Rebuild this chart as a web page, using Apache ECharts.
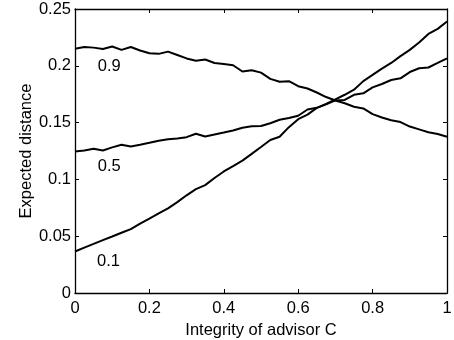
<!DOCTYPE html>
<html>
<head>
<meta charset="utf-8">
<script src="https://cdn.jsdelivr.net/npm/echarts@6/dist/echarts.min.js"></script>
<style>
  html, body { margin: 0; padding: 0; background: #fff; }
  #main { width: 454px; height: 340px; }
</style>
</head>
<body>
<div id="main"></div>
<script>
// integrity of advisor C
var xs = [0, 0.025, 0.05, 0.075, 0.1, 0.125, 0.15, 0.175, 0.2, 0.225,
  0.25, 0.275, 0.3, 0.325, 0.35, 0.375, 0.4, 0.425, 0.45, 0.475,
  0.5, 0.525, 0.55, 0.575, 0.6, 0.625, 0.65, 0.675, 0.7, 0.725,
  0.75, 0.775, 0.8, 0.825, 0.85, 0.875, 0.9, 0.925, 0.95, 0.975, 1]

// expected distance, one curve per parameter
var curve09 = [0.2150, 0.2165, 0.2160, 0.2148, 0.2170, 0.2140, 0.2165, 0.2135, 0.2110, 0.2105,
  0.2125, 0.2095, 0.2065, 0.2045, 0.2055, 0.2025, 0.2015, 0.2005, 0.1950, 0.1960,
  0.1940, 0.1885, 0.1860, 0.1865, 0.1820, 0.1800, 0.1765, 0.1725, 0.1695, 0.1670,
  0.1640, 0.1625, 0.1575, 0.1545, 0.1520, 0.1505, 0.1465, 0.1440, 0.1415, 0.1400, 0.1375]

var curve05 = [0.1245, 0.1255, 0.1270, 0.1255, 0.1282, 0.1305, 0.1290, 0.1305, 0.1322, 0.1341,
  0.1354, 0.1360, 0.1372, 0.1402, 0.1378, 0.1395, 0.1412, 0.1430, 0.1455, 0.1468,
  0.1470, 0.1494, 0.1525, 0.1540, 0.1560, 0.1615, 0.1630, 0.1660, 0.1695, 0.1700,
  0.1745, 0.1758, 0.1810, 0.1840, 0.1875, 0.1890, 0.1945, 0.1978, 0.1985, 0.2025, 0.2066]

var curve01 = [0.0365, 0.0400, 0.0432, 0.0465, 0.0497, 0.0530, 0.0562, 0.0610, 0.0655, 0.0700,
  0.0745, 0.0800, 0.0860, 0.0915, 0.0950, 0.1012, 0.1070, 0.1117, 0.1165, 0.1225,
  0.1285, 0.1347, 0.1375, 0.1460, 0.1530, 0.1570, 0.1630, 0.1665, 0.1705, 0.1745,
  0.1790, 0.1865, 0.1920, 0.1975, 0.2025, 0.2085, 0.2140, 0.2205, 0.2280, 0.2325, 0.2390]

// text labels next to the curves
var labelNames = ['0.9', '0.5', '0.1']
var labelX = [0.092, 0.092, 0.09]
var labelY = [0.199, 0.111, 0.0282]

var font = 'Liberation Sans, Arial, Helvetica, sans-serif'

function pairs(ys) {
  var out = []
  for (var i = 0; i < xs.length; i++) {
    out.push([xs[i], ys[i]])
  }
  return out
}

function makeSeries(ys, idx) {
  return {
    type: 'line',
    data: pairs(ys),
    showSymbol: false,
    symbol: 'none',
    silent: true,
    lineStyle: { color: '#000', width: 2 },
    markPoint: {
      symbol: 'circle',
      symbolSize: 0,
      silent: true,
      data: [{
        coord: [labelX[idx], labelY[idx]],
        label: {
          show: true,
          position: 'inside',
          formatter: labelNames[idx],
          color: '#000',
          fontFamily: font,
          fontSize: 16.5
        }
      }]
    }
  }
}

var chart = echarts.init(document.getElementById('main'), null, { renderer: 'canvas' })

var tickInside = { show: true, inside: true, length: 4, lineStyle: { color: '#000', width: 1 } }
var axisLine = { show: true, onZero: false, lineStyle: { color: '#000', width: 1.3 } }

var option = {
  animation: false,
  backgroundColor: '#fff',
  grid: { left: 75, right: 7, top: 9, bottom: 47, outerBoundsMode: 'none' },
  xAxis: [{
    type: 'value',
    min: 0,
    max: 1,
    interval: 0.2,
    position: 'bottom',
    name: 'Integrity of advisor C',
    nameLocation: 'middle',
    nameGap: 29,
    nameTextStyle: { color: '#000', fontFamily: font, fontSize: 16.5 },
    axisLine: axisLine,
    axisTick: tickInside,
    axisLabel: { color: '#000', fontFamily: font, fontSize: 16.5, margin: 7 },
    splitLine: { show: false }
  }, {
    type: 'value',
    min: 0,
    max: 1,
    interval: 0.2,
    position: 'top',
    axisLine: axisLine,
    axisTick: tickInside,
    axisLabel: { show: false },
    splitLine: { show: false }
  }],
  yAxis: [{
    type: 'value',
    min: 0,
    max: 0.25,
    interval: 0.05,
    position: 'left',
    name: 'Expected distance',
    nameLocation: 'middle',
    nameGap: 40,
    nameMoveOverlap: false,
    nameTextStyle: { color: '#000', fontFamily: font, fontSize: 16.5 },
    axisLine: axisLine,
    axisTick: tickInside,
    axisLabel: { color: '#000', fontFamily: font, fontSize: 16.5, margin: 4 },
    splitLine: { show: false }
  }, {
    type: 'value',
    min: 0,
    max: 0.25,
    interval: 0.05,
    position: 'right',
    axisLine: axisLine,
    axisTick: tickInside,
    axisLabel: { show: false },
    splitLine: { show: false }
  }],
  series: [
    makeSeries(curve09, 0),
    makeSeries(curve05, 1),
    makeSeries(curve01, 2)
  ]
}

chart.setOption(option)
</script>
</body>
</html>
